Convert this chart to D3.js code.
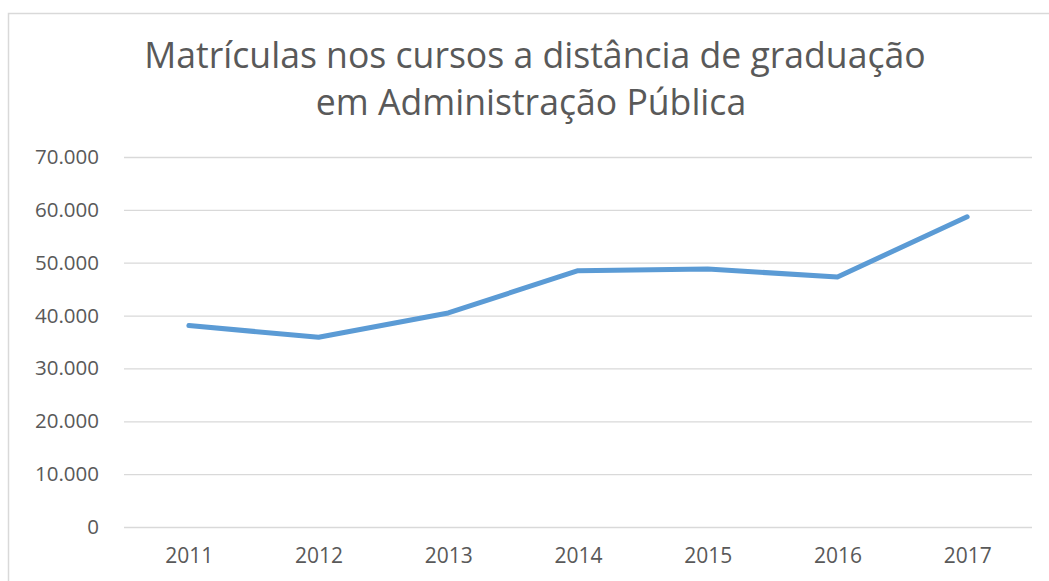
<!DOCTYPE html>
<meta charset="utf-8">
<body style="margin:0;background:#fff">
<script src="https://cdn.jsdelivr.net/npm/d3@7"></script>
<script>
// chart data
var years = ["2011", "2012", "2013", "2014", "2015", "2016", "2017"];
var matriculas = [38100, 35900, 40500, 48500, 48800, 47300, 58700];
var yTicks = [0, 10000, 20000, 30000, 40000, 50000, 60000, 70000];
var titleLines = ["Matrículas nos cursos a distância de graduação", "em Administração Pública"];

var W = 1049, H = 581;
var margin = {top: 157, right: 17, bottom: 54, left: 124},
  width = W - margin.left - margin.right,
  height = H - margin.top - margin.bottom;

var svg = d3.select("body").append("svg")
    .attr("width", W)
    .attr("height", H)
    .style("font-family", "'Open Sans', sans-serif");

// chart frame
svg.append("rect")
    .attr("x", 8.5).attr("y", 13.5)
    .attr("width", W + 20).attr("height", H + 20)
    .attr("fill", "none")
    .attr("stroke", "#d9d9d9")
    .attr("stroke-width", 1.5);

// title
svg.append("text")
    .attr("text-anchor", "middle")
    .attr("fill", "#595959")
    .style("font-size", "35.6px")
    .selectAll("tspan")
    .data(titleLines)
    .enter()
    .append("tspan")
    .attr("x", function(d, i) { return i ? 531 : 535; })
    .attr("y", function(d, i) { return 68 + i * 47; })
    .text(function(d) { return d; });

var g = svg.append("g")
    .attr("transform", "translate(" + margin.left + "," + margin.top + ")");

var x = d3.scalePoint()
    .domain(years)
    .range([0, width])
    .padding(0.5);

var y = d3.scaleLinear()
    .domain([0, 70000])
    .range([height, 0]);

var fmt = d3.formatLocale({decimal: ",", thousands: ".", grouping: [3], currency: ["R$", ""]}).format(",.0f");

// gridlines + y labels
var yAxis = g.append("g")
    .call(d3.axisLeft(y).tickValues(yTicks).tickSize(-width).tickPadding(25).tickFormat(fmt));
yAxis.select(".domain").remove();
yAxis.selectAll(".tick line").attr("stroke", "#d9d9d9").attr("stroke-width", 1.3);
yAxis.selectAll(".tick text")
    .attr("fill", "#595959")
    .style("font-size", "20.5px")
    .style("font-family", "'Open Sans', sans-serif");

// x labels
var xAxis = g.append("g")
    .attr("transform", "translate(0," + height + ")")
    .call(d3.axisBottom(x).tickSize(0).tickPadding(21));
xAxis.select(".domain").remove();
xAxis.selectAll(".tick text")
    .attr("fill", "#595959")
    .style("font-size", "21px")
    .style("font-family", "'Open Sans', sans-serif");

// the line
var line = d3.line()
    .x(function(d, i) { return x(years[i]); })
    .y(function(d) { return y(d); });

g.append("path")
    .datum(matriculas)
    .attr("fill", "none")
    .attr("stroke", "#5b9bd5")
    .attr("stroke-width", 5)
    .attr("stroke-linecap", "round")
    .attr("stroke-linejoin", "round")
    .attr("d", line);
</script>
</body>
